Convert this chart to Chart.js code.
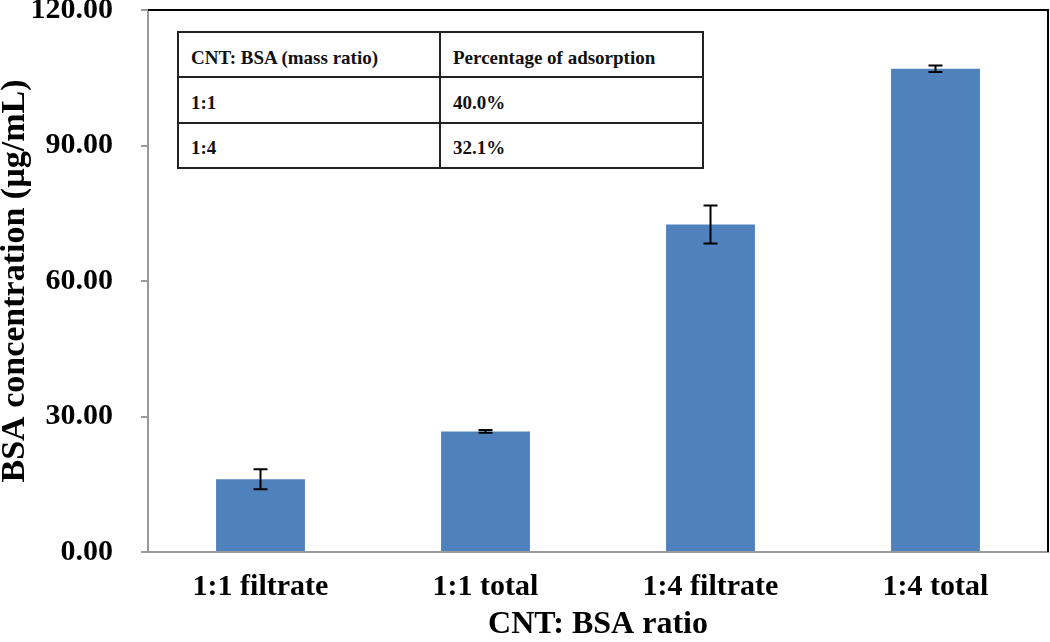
<!DOCTYPE html>
<html>
<head>
<meta charset="utf-8">
<script src="https://cdn.jsdelivr.net/npm/chart.js@4/dist/chart.umd.min.js"></script>
<style>
    body { margin: 0; background: #fff; }
    #wrap { position: relative; width: 1050px; height: 642px; }
    #ratioTable {
        position: absolute;
        left: 177px;
        top: 31px;
        width: 527px;
        height: 138px;
        border-collapse: collapse;
        background: #fff;
        font-family: "Liberation Serif", "Times New Roman", serif;
        font-size: 19px;
        font-weight: bold;
        color: #111;
    }
    #ratioTable td {
        border: 2px solid #222;
        padding: 6px 12px 0 12px;
        text-align: left;
        vertical-align: middle;
    }
    #ratioTable td:first-child { width: 236px; }
</style>
</head>
<body>
<div id="wrap">
    <canvas id="mainGraph" width="1050" height="642"></canvas>
    <table id="ratioTable"></table>
</div>
<script>
const categories = ["1:1 filtrate", "1:1 total", "1:4 filtrate", "1:4 total"]
const concentration = [16.1, 26.7, 72.5, 107.0]
const concentrationError = [2.2, 0.3, 4.2, 0.7]
const yTicks = [0, 30, 60, 90, 120]

const tableHeader = ["CNT: BSA (mass ratio)", "Percentage of adsorption"]
const tableRatios = ["1:1", "1:4"]
const tableAdsorption = ["40.0%", "32.1%"]

const serifFont = "'Liberation Serif', 'Times New Roman', serif"
const axisGray = "#9a9a9a"

// table drawn as real html over the plot
const ratioTable = document.getElementById("ratioTable")
let tableHtml = `<tr><td>${tableHeader[0]}</td><td>${tableHeader[1]}</td></tr>`
tableRatios.forEach((ratio, i) => {
    tableHtml += `<tr><td>${ratio}</td><td>${tableAdsorption[i]}</td></tr>`
})
ratioTable.innerHTML = tableHtml

const errorBarPlugin = {
    id: "errorBars",
    afterDatasetsDraw(chart) {
        const ctx = chart.ctx
        const yScale = chart.scales.y
        const meta = chart.getDatasetMeta(0)
        ctx.save()
        ctx.strokeStyle = "#000"
        ctx.lineWidth = 2
        meta.data.forEach((bar, i) => {
            const top = yScale.getPixelForValue(concentration[i] + concentrationError[i])
            const bottom = yScale.getPixelForValue(concentration[i] - concentrationError[i])
            const half = 7
            ctx.beginPath()
            ctx.moveTo(bar.x, top)
            ctx.lineTo(bar.x, bottom)
            ctx.moveTo(bar.x - half, top)
            ctx.lineTo(bar.x + half, top)
            ctx.moveTo(bar.x - half, bottom)
            ctx.lineTo(bar.x + half, bottom)
            ctx.stroke()
        })
        ctx.restore()
    }
}

const frameBorderPlugin = {
    id: "frameBorder",
    afterDraw(chart) {
        const {ctx, chartArea} = chart
        ctx.save()
        ctx.strokeStyle = "#000"
        ctx.lineWidth = 2
        ctx.beginPath()
        ctx.moveTo(chartArea.left, chartArea.top)
        ctx.lineTo(chartArea.right, chartArea.top)
        ctx.lineTo(chartArea.right, chartArea.bottom)
        ctx.stroke()
        ctx.restore()
    }
}

new Chart(document.getElementById("mainGraph"), {
    type: "bar",
    data: {
        labels: categories,
        datasets: [{
            data: concentration,
            backgroundColor: "#4F81BD",
            borderWidth: 0,
            barPercentage: 0.395,
            categoryPercentage: 1
        }]
    },
    options: {
        responsive: false,
        animation: false,
        layout: {padding: {top: 10, right: 2, left: 0, bottom: 0}},
        plugins: {
            legend: {display: false},
            tooltip: {enabled: false}
        },
        scales: {
            x: {
                grid: {display: false, drawTicks: false},
                border: {color: axisGray, width: 2},
                ticks: {
                    color: "#000",
                    font: {size: 30, family: serifFont, weight: "bold"},
                    padding: 17,
                    maxRotation: 0
                },
                title: {
                    display: true,
                    text: "CNT: BSA ratio",
                    color: "#000",
                    font: {size: 32, family: serifFont, weight: "bold", lineHeight: 1.1},
                    padding: {top: 0, bottom: 0}
                },
                afterFit: (scale) => { scale.height = 90 }
            },
            y: {
                min: 0,
                max: 120,
                afterBuildTicks: (scale) => {
                    scale.ticks = yTicks.map((v) => ({value: v}))
                },
                grid: {
                    drawOnChartArea: false,
                    drawTicks: true,
                    tickLength: 7,
                    color: axisGray,
                    lineWidth: 2
                },
                border: {color: axisGray, width: 2},
                ticks: {
                    color: "#000",
                    font: {size: 30, family: serifFont, weight: "bold"},
                    padding: 28,
                    callback: (v) => Number(v).toFixed(2)
                },
                title: {
                    display: true,
                    text: "BSA concentration (µg/mL)",
                    color: "#000",
                    font: {size: 34, family: serifFont, weight: "bold", lineHeight: 0.9},
                    padding: {top: 0, bottom: 0}
                },
                afterFit: (scale) => {
                    scale.width = 148
                    scale.paddingTop = 0
                    scale.paddingBottom = 0
                }
            }
        }
    },
    plugins: [errorBarPlugin, frameBorderPlugin]
})
</script>
</body>
</html>
